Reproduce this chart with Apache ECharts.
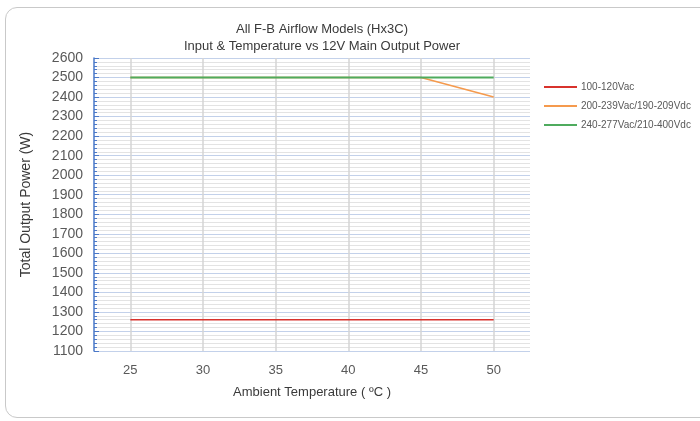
<!DOCTYPE html>
<html>
<head>
<meta charset="utf-8">
<script src="https://cdn.jsdelivr.net/npm/echarts@6/dist/echarts.min.js"></script>
<style>
  html, body { margin: 0; padding: 0; background: #fff; }
  #frame {
    position: absolute; left: 5px; top: 7px; width: 710px; height: 411px;
    border: 1px solid #c9c9c9; border-radius: 12px; box-sizing: border-box;
  }
  #chart { position: absolute; left: 0; top: 0; width: 700px; height: 421px; }
</style>
</head>
<body>
<div id="frame"></div>
<div id="chart"></div>
<script>
const temps = ['25', '30', '35', '40', '45', '50']
const lowLine = [1260, 1260, 1260, 1260, 1260, 1260]
const midLine = [2500, 2500, 2500, 2500, 2500, 2400]
const highLine = [2500, 2500, 2500, 2500, 2500, 2500]
const seriesNames = ['100-120Vac', '200-239Vac/190-209Vdc', '240-277Vac/210-400Vdc']

const font = '"Liberation Sans", Arial, sans-serif'
const chart = echarts.init(document.getElementById('chart'))

chart.setOption({
  animation: false,
  color: ['#d8322c', '#f59a4d', '#4fab5e'],
  title: {
    text: 'All F-B Airflow Models (Hx3C)\nInput & Temperature vs 12V Main Output Power',
    left: 317,
    textAlign: 'center',
    top: 16,
    textStyle: { fontFamily: font, fontSize: 13, fontWeight: 'normal', color: '#3a3a3a', lineHeight: 17 },
  },
  legend: {
    orient: 'vertical',
    left: 544,
    top: 82,
    padding: 0,
    itemWidth: 33,
    itemHeight: 2,
    itemGap: 9,
    icon: 'rect',
    data: seriesNames,
    textStyle: { fontFamily: font, fontSize: 10, color: '#595959', padding: [0, 0, 0, -1] },
  },
  grid: { left: 94, right: 170, top: 58, bottom: 70 },
  xAxis: {
    type: 'category',
    data: temps,
    boundaryGap: true,
    name: 'Ambient Temperature ( ºC )',
    nameLocation: 'middle',
    nameGap: 35,
    nameTextStyle: { fontFamily: font, fontSize: 13, color: '#3a3a3a' },
    axisLine: { show: false },
    axisTick: { show: false, alignWithLabel: true },
    axisLabel: { fontFamily: font, fontSize: 13, color: '#595959', margin: 13 },
    splitLine: { show: true, alignWithLabel: true, lineStyle: { color: '#d4d4d4', width: 1.5 } },
  },
  yAxis: {
    type: 'value',
    min: 1100,
    max: 2600,
    interval: 100,
    name: 'Total Output Power (W)',
    nameLocation: 'middle',
    nameGap: 61,
    nameTextStyle: { fontFamily: font, fontSize: 14, color: '#3a3a3a' },
    axisLine: { show: true, lineStyle: { color: '#4a78c8', width: 1.5 } },
    axisTick: { show: true, inside: true, length: 5, lineStyle: { color: '#4a78c8' } },
    minorTick: { show: true, splitNumber: 5, length: 3, lineStyle: { color: '#4a78c8' } },
    axisLabel: { fontFamily: font, fontSize: 14, color: '#595959', margin: 11, formatter: (v) => String(v) },
    splitLine: { lineStyle: { color: '#c3d1ea', width: 1 } },
    minorSplitLine: { show: true, lineStyle: { color: '#e3e3e3', width: 1 } },
  },
  series: [
    { name: seriesNames[0], type: 'line', data: lowLine, symbol: 'none', lineStyle: { width: 1.5 }, z: 3 },
    { name: seriesNames[1], type: 'line', data: midLine, symbol: 'none', lineStyle: { width: 1.5 }, z: 3 },
    { name: seriesNames[2], type: 'line', data: highLine, symbol: 'none', lineStyle: { width: 2 }, z: 4 },
  ],
})
</script>
</body>
</html>
